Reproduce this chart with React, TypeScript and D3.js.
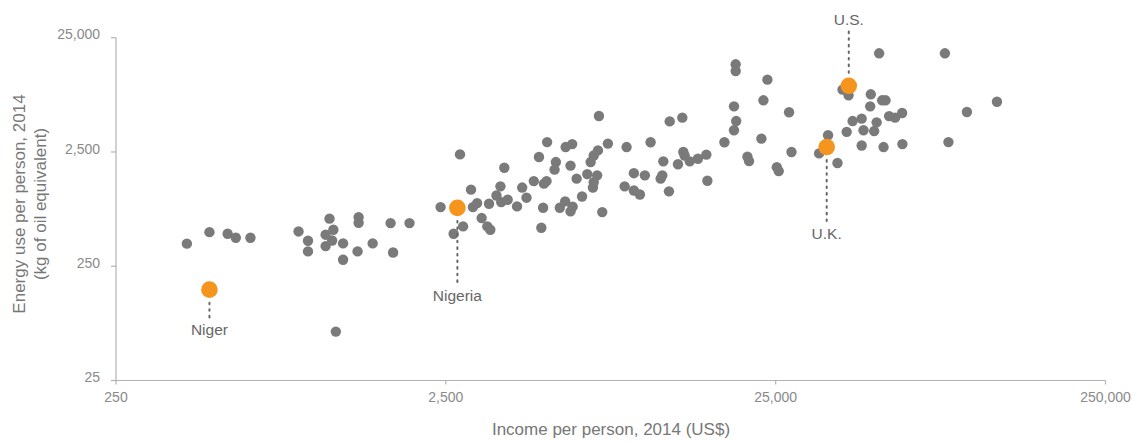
import React from 'react';
import * as d3 from 'd3';

// ---- data ----
const xTicks = [250, 2500, 25000, 250000];
const yTicks = [25, 250, 2500, 25000];

// [income per person US$, energy use per person kg oil eq.]
const otherCountries: [number, number][] = [
  [410, 394], [480, 497], [545, 481], [577, 444], [639, 444],
  [894, 504], [955, 418], [955, 337], [1110, 652], [1140, 522],
  [1080, 472], [1130, 420], [1080, 375], [1220, 396], [1220, 285],
  [1360, 673], [1360, 601], [1350, 337], [1500, 396], [1700, 596],
  [1940, 596], [1730, 330], [1160, 67],
  [2760, 2380], [2410, 823], [2980, 1170], [3020, 823], [3110, 892],
  [3210, 660], [2820, 558], [2640, 481], [3340, 558], [3410, 522],
  [3380, 881], [3660, 1250], [3760, 1820], [3560, 1040], [3680, 910],
  [3850, 955], [4110, 835], [4260, 1220], [4390, 995], [4620, 1390],
  [4790, 2260], [4960, 1320], [5050, 1390], [4930, 813], [4870, 543],
  [5070, 3050], [5390, 2040], [5340, 1750], [5770, 2760], [6040, 2930],
  [5970, 1900], [5540, 813], [5750, 923], [6060, 830], [5970, 755],
  [6230, 1460], [6470, 1020], [6710, 1600], [7280, 5160], [7750, 2960],
  [8830, 2760], [10440, 3040], [11930, 4630], [13030, 4990], [7230, 2580],
  [7020, 2330], [6870, 2040], [7190, 1560], [7020, 1360], [6980, 1220],
  [7450, 744], [9290, 1630], [10030, 1560], [8710, 1250], [9290, 1150],
  [9690, 1060], [11200, 1460], [11330, 1560], [11410, 2070], [11870, 1130],
  [12640, 1950], [13120, 2500], [13240, 2330], [13720, 2070], [14530, 2180],
  [15410, 2370], [15520, 1400], [17480, 3040], [18690, 6270], [18980, 4660],
  [18690, 3870], [18910, 14620], [18910, 12770], [23600, 10740], [22950, 7080],
  [27450, 5560], [22630, 3270], [20530, 2270], [20760, 2080], [27920, 2500],
  [25200, 1840], [25540, 1700], [36040, 3500], [33860, 2430], [38490, 2000],
  [41040, 3750], [39870, 8780], [41580, 7830], [51480, 18250], [81480, 18250],
  [48580, 7990], [52570, 7080], [53830, 7080], [48360, 6270], [42770, 4660],
  [45570, 4890], [50590, 4540], [55190, 5150], [57540, 4990], [60440, 5480],
  [46160, 3870], [49720, 3810], [45570, 2850], [53090, 2760], [60560, 2930],
  [83510, 3050], [95020, 5590], [117190, 6870],
];

const highlightNames = ['Niger', 'Nigeria', 'U.K.', 'U.S.'];
const highlightIncome = [480, 2710, 35700, 41650];
const highlightEnergy = [156, 810, 2760, 9480];

// ---- layout ----
const W = 1132;
const H = 443;
const labelOffset = [41, 89, 88, -65]; // label centre relative to dot (px)
const FONT = '"Liberation Sans", Arial, "Helvetica Neue", sans-serif';
const GREY_DOT = '#7a7a7a';
const ORANGE = '#f5951e';
const AXIS = '#b3b3b3';

const x = d3.scaleLog().domain([250, 250000]).range([116, 1105.5]);
const y = d3.scaleLog().domain([25, 25000]).range([380.5, 37.7]);
const fmt = d3.format(',');

export default function App() {
  const [x0, x1] = x.range();
  const [y0, y1] = y.range();
  return (
    <svg
      width={W}
      height={H}
      style={{ position: 'absolute', left: 0, top: 0, display: 'block', background: '#fff' }}
      fontFamily={FONT}
    >
      {/* axes */}
      <line x1={x0} x2={x1} y1={y0} y2={y0} stroke={AXIS} strokeWidth={1.2} />
      <line x1={x0} x2={x0} y1={y0} y2={y1} stroke={AXIS} strokeWidth={1.2} />
      {xTicks.map((t) => (
        <g key={'xt' + t} transform={`translate(${x(t)},0)`}>
          <line y1={y0} y2={y0 + 4} stroke={AXIS} strokeWidth={1.2} />
          <text y={398} textAnchor="middle" dominantBaseline="middle" fontSize={14} fill="#8a8a8a">
            {fmt(t)}
          </text>
        </g>
      ))}
      {yTicks.map((t) => (
        <g key={'yt' + t} transform={`translate(0,${y(t)})`}>
          <line x1={x0 - 5} x2={x0} stroke={AXIS} strokeWidth={1.2} />
          <text x={100} y={-2} textAnchor="end" dominantBaseline="middle" fontSize={14} fill="#8a8a8a">
            {fmt(t)}
          </text>
        </g>
      ))}

      {/* axis titles */}
      <text x={611} y={431} textAnchor="middle" dominantBaseline="middle" fontSize={17} fill="#777">
        Income per person, 2014 (US$)
      </text>
      <g transform="translate(21,204) rotate(-90)">
        <text textAnchor="middle" dominantBaseline="middle" fontSize={17} fill="#777">
          Energy use per person, 2014
        </text>
      </g>
      <g transform="translate(42,204) rotate(-90)">
        <text textAnchor="middle" dominantBaseline="middle" fontSize={17} fill="#777">
          (kg of oil equivalent)
        </text>
      </g>

      {/* other countries */}
      {otherCountries.map(([inc, en], i) => (
        <circle key={'c' + i} cx={x(inc)} cy={y(en)} r={5.2} fill={GREY_DOT} />
      ))}

      {/* highlighted countries */}
      {highlightNames.map((name, i) => {
        const cx = x(highlightIncome[i]);
        const cy = y(highlightEnergy[i]);
        const off = labelOffset[i];
        const ly = cy + off;
        const below = off > 0;
        const lineStart = below ? cy + 13 : cy - 13;
        const lineEnd = below ? ly - 13 : ly + 7;
        return (
          <g key={name}>
            <line
              x1={cx}
              x2={cx}
              y1={lineStart}
              y2={lineEnd}
              stroke="#666"
              strokeWidth={2}
              strokeDasharray="1.6 5"
              strokeLinecap="round"
            />
            <text x={cx} y={ly} textAnchor="middle" dominantBaseline="middle" fontSize={15.5} fill="#666">
              {name}
            </text>
          </g>
        );
      })}
      {highlightNames.map((name, i) => (
        <circle
          key={'h' + name}
          cx={x(highlightIncome[i])}
          cy={y(highlightEnergy[i])}
          r={8.3}
          fill={ORANGE}
        />
      ))}
    </svg>
  );
}
